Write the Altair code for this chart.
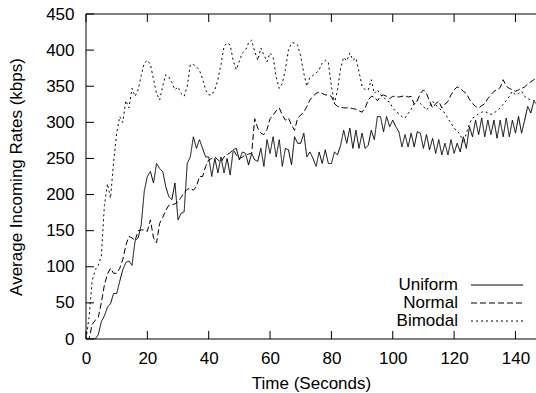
import altair as alt
import pandas as pd

# ---------------- data ----------------
seconds = list(range(148))

uniform = [0, 0, 0, 0, 6, 24, 32, 44, 49, 63,
           63, 80, 96, 106, 108, 102, 136, 140, 158, 205,
           225, 232, 216, 243, 236, 232, 211, 197, 193, 216,
           165, 174, 176, 243, 252, 280, 264, 276, 264, 252,
           252, 225, 250, 230, 252, 230, 250, 227, 262, 264,
           248, 259, 257, 241, 257, 248, 246, 264, 239, 276,
           257, 280, 252, 276, 239, 264, 262, 241, 280, 271,
           271, 285, 252, 259, 250, 239, 259, 243, 262, 243,
           243, 259, 255, 268, 289, 271, 292, 264, 289, 264,
           285, 264, 268, 289, 276, 308, 308, 287, 308, 294,
           303, 294, 287, 266, 283, 266, 285, 266, 287, 285,
           264, 283, 262, 278, 257, 276, 255, 271, 255, 276,
           257, 271, 259, 280, 264, 294, 280, 303, 283, 306,
           280, 303, 283, 303, 278, 303, 280, 306, 280, 303,
           285, 308, 285, 303, 322, 313, 329, 325]

normal = [0, 0, 20, 26, 30, 50, 75, 90, 98, 91,
          91, 98, 110, 130, 142, 140, 136, 150, 151, 151,
          149, 165, 140, 133, 160, 168, 178, 185, 186, 187,
          190, 196, 203, 207, 209, 206, 211, 225, 225, 239,
          248, 250, 252, 248, 245, 252, 255, 258, 262, 255,
          250, 252, 255, 256, 257, 305, 292, 285, 283, 290,
          305, 310, 316, 320, 310, 303, 306, 296, 289, 306,
          310, 314, 322, 331, 336, 340, 342, 340, 338, 338,
          336, 326, 322, 321, 320, 320, 320, 319, 318, 316,
          314, 320, 331, 336, 335, 330, 336, 338, 336, 333,
          336, 336, 335, 336, 337, 335, 336, 325, 330, 340,
          345, 340, 329, 320, 326, 329, 320, 325, 329, 338,
          345, 349, 347, 343, 340, 332, 326, 322, 320, 323,
          326, 333, 338, 343, 345, 348, 359, 350, 347, 345,
          343, 345, 347, 349, 353, 356, 359, 361]

bimodal = [0, 30, 80, 96, 102, 115, 185, 215, 195, 245,
           285, 308, 300, 330, 320, 347, 336, 345, 365, 382,
           386, 380, 360, 340, 331, 350, 366, 363, 355, 345,
           349, 340, 336, 350, 380, 380, 377, 372, 360, 345,
           338, 338, 345, 359, 380, 405, 410, 407, 385, 373,
           385, 396, 400, 410, 414, 398, 386, 403, 393, 384,
           396, 390, 363, 347, 354, 373, 400, 410, 410, 407,
           391, 368, 350, 362, 365, 368, 373, 382, 386, 383,
           350, 326, 345, 375, 390, 385, 396, 386, 389, 370,
           350, 345, 345, 359, 340, 345, 338, 335, 330, 328,
           320, 315, 312, 308, 306, 312, 318, 326, 330, 326,
           322, 317, 322, 329, 324, 320, 316, 313, 305, 299,
           292, 288, 283, 271, 285, 298, 306, 308, 312, 314,
           315, 313, 311, 313, 316, 320, 325, 330, 336, 343,
           338, 340, 343, 336, 333, 331, 330, 329]

series_names = ["Uniform", "Normal", "Bimodal"]
x_ticks = [0, 20, 40, 60, 80, 100, 120, 140]
y_ticks = [0, 50, 100, 150, 200, 250, 300, 350, 400, 450]

rows = []
for name, vals in zip(series_names, [uniform, normal, bimodal]):
    for t, v in zip(seconds, vals):
        rows.append({"time": t, "rate": v, "series": name})
df = pd.DataFrame(rows)

# ---------------- styling ----------------
W, H = 450, 325
FONT = "Liberation Sans"
FS = 17
dashes = [[1, 0], [6, 3], [2, 3]]

xscale = alt.Scale(domain=[0, 146.7], nice=False, zero=False)
yscale = alt.Scale(domain=[0, 450], nice=False)

x_axis = alt.Axis(values=x_ticks, format="d", title="Time (Seconds)",
                  tickSize=0, domain=False, grid=False,
                  labelFont=FONT, labelFontSize=FS, labelColor="black",
                  labelPadding=19, labelBaseline="middle",
                  labelFlush=False, labelOverlap=False,
                  titleFont=FONT, titleFontSize=FS, titleFontWeight="normal",
                  titleColor="black", titleX=225, titleY=44,
                  titleBaseline="middle", titleAlign="center")
y_axis = alt.Axis(values=y_ticks, format="d",
                  title="Average Incoming Rates (kbps)",
                  tickSize=0, domain=False, grid=False,
                  labelFont=FONT, labelFontSize=FS, labelColor="black",
                  labelPadding=12, labelFlush=False, labelOverlap=False,
                  titleFont=FONT, titleFontSize=FS, titleFontWeight="normal",
                  titleColor="black", titleX=-70, titleY=162.5,
                  titleAngle=-90, titleBaseline="middle", titleAlign="center")

lines = alt.Chart(df).mark_line(color="black", strokeWidth=1, clip=True).encode(
    x=alt.X("time:Q", scale=xscale, axis=x_axis),
    y=alt.Y("rate:Q", scale=yscale, axis=y_axis),
    strokeDash=alt.StrokeDash("series:N",
                              scale=alt.Scale(domain=series_names, range=dashes),
                              legend=None),
)

one = pd.DataFrame({"k": [0]})
frame_top = alt.Chart(one).mark_rule(color="black", strokeWidth=1).encode(
    x=alt.value(0), x2=alt.value(W), y=alt.value(0))
frame_bottom = alt.Chart(one).mark_rule(color="black", strokeWidth=1).encode(
    x=alt.value(0), x2=alt.value(W), y=alt.value(H))
frame_left = alt.Chart(one).mark_rule(color="black", strokeWidth=1).encode(
    x=alt.value(0), y=alt.value(0), y2=alt.value(H))

xt_df = pd.DataFrame({"time": x_ticks})
yt_df = pd.DataFrame({"rate": y_ticks})
TL = 8
xt_bottom = alt.Chart(xt_df).mark_rule(color="black").encode(
    x=alt.X("time:Q", scale=xscale, axis=x_axis), y=alt.value(H), y2=alt.value(H - TL))
xt_top = alt.Chart(xt_df).mark_rule(color="black").encode(
    x=alt.X("time:Q", scale=xscale, axis=x_axis), y=alt.value(0), y2=alt.value(TL))
yt_left = alt.Chart(yt_df).mark_rule(color="black").encode(
    y=alt.Y("rate:Q", scale=yscale, axis=y_axis), x=alt.value(0), x2=alt.value(TL))

legend_layers = []
leg_y = [271, 289, 307]
for name, dash, yy in zip(series_names, dashes, leg_y):
    ldf = pd.DataFrame({"label": [name]})
    legend_layers.append(
        alt.Chart(ldf).mark_text(align="right", baseline="middle", font=FONT,
                                 fontSize=FS, color="black").encode(
            x=alt.value(372), y=alt.value(yy), text="label:N"))
    legend_layers.append(
        alt.Chart(ldf).mark_rule(color="black", strokeWidth=1, strokeDash=dash).encode(
            x=alt.value(385), x2=alt.value(437), y=alt.value(yy)))

chart = alt.layer(
    lines, frame_top, frame_bottom, frame_left, xt_bottom, xt_top, yt_left,
    *legend_layers
).properties(
    width=W, height=H,
    padding={"left": 86, "top": 14, "right": 0, "bottom": 54},
    autosize=alt.AutoSizeParams(type="none"),
    background="white",
).configure_view(stroke=None)

chart.save("out.html", embed_options={"renderer": "svg", "actions": False})
